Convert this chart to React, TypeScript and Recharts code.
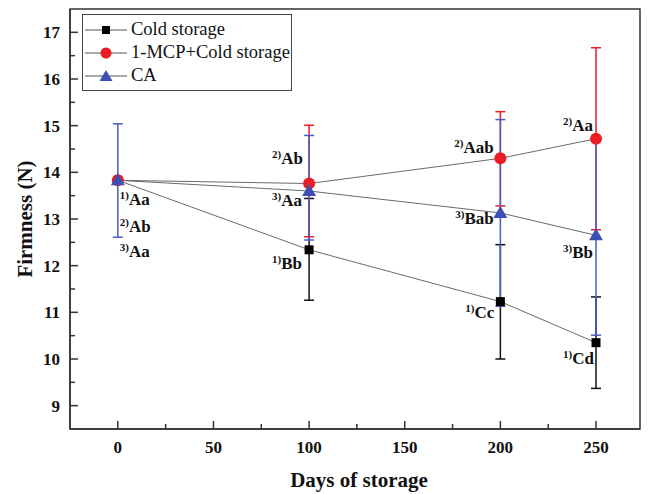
import {
  LineChart,
  Line,
  XAxis,
  YAxis,
  ErrorBar,
  LabelList,
  Label,
  Legend,
  ReferenceArea,
} from "recharts";

const days = [0, 100, 200, 250];

const coldStorage = [13.83, 12.34, 11.23, 10.35];
const coldErrLow = [0, 1.08, 1.23, 0.98];
const coldErrHigh = [0, 1.1, 1.22, 0.98];

const mcpCold = [13.83, 13.76, 14.3, 14.72];
const mcpErrLow = [0, 1.14, 1.02, 1.95];
const mcpErrHigh = [0, 1.25, 1.0, 1.95];

const caStorage = [13.83, 13.6, 13.13, 12.65];
const caErrLow = [1.22, 1.05, 2.0, 2.14];
const caErrHigh = [1.21, 1.19, 2.0, 2.1];

const coldNotes = ["Aa", "Bb", "Cc", "Cd"];
const mcpNotes = ["Ab", "Ab", "Aab", "Aa"];
const caNotes = ["Aa", "Aa", "Bab", "Bb"];

const xTicks = [0, 25, 50, 75, 100, 125, 150, 175, 200, 225, 250];
const yTicks = [9, 9.5, 10, 10.5, 11, 11.5, 12, 12.5, 13, 13.5, 14, 14.5, 15, 15.5, 16, 16.5, 17];

// label offsets (text start, baseline) relative to each point
const coldPos = [[2, 25], [-37, 19], [-35, 16], [-33, 21]];
const mcpPos = [[2, 52], [-37, -20], [-46, -5], [-33, -8]];
const caPos = [[2, 77], [-37, 15], [-45, 11], [-33, 23]];

const data = days.map((d, i) => ({
  day: d,
  cold: coldStorage[i],
  coldErr: [coldErrLow[i], coldErrHigh[i]],
  mcp: mcpCold[i],
  mcpErr: [mcpErrLow[i], mcpErrHigh[i]],
  ca: caStorage[i],
  caErr: [caErrLow[i], caErrHigh[i]],
}));

const FONT = "Liberation Serif";
const AXIS = "#333";
const LINE = "#6a6a6a";
const RED = "#ec1c24";
const BLUE = "#3b50b2";
const BLUE_BAR = "#4a5ec2";

const bold = (size: number) => ({ fontFamily: FONT, fontWeight: 700, fontSize: size });

const XTick = ({ x, y, payload }: any) => {
  const major = payload.value % 50 === 0;
  return (
    <g>
      <line x1={x} y1={y} x2={x} y2={y - (major ? 8 : 5)} stroke={AXIS} strokeWidth={1.5} />
      {major && (
        <text x={x} y={y + 24} textAnchor="middle" style={bold(17)} fill="#111">
          {payload.value}
        </text>
      )}
    </g>
  );
};

const YTick = ({ x, y, payload }: any) => {
  const major = Number.isInteger(payload.value);
  return (
    <g>
      <line x1={x} y1={y} x2={x + (major ? 8 : 5)} y2={y} stroke={AXIS} strokeWidth={1.5} />
      {major && (
        <text x={x - 10} y={y + 6} textAnchor="end" style={bold(17)} fill="#111">
          {payload.value}
        </text>
      )}
    </g>
  );
};

const noteLabel = (prefix: string, notes: string[], pos: number[][]) => (props: any) => {
  const { index } = props;
  const x = props.x ?? props.viewBox?.x;
  const y = props.y ?? props.viewBox?.y;
  const [dx, dy] = pos[index];
  return (
    <text x={x + dx} y={y + dy} style={bold(17)} fill="#111">
      <tspan style={{ fontSize: 11 }} dy={-6}>{prefix}</tspan>
      <tspan style={{ fontSize: 17 }} dy={6}>{notes[index]}</tspan>
    </text>
  );
};

const Square = (props: any) => (
  <rect key={props.index} x={props.cx - 4.5} y={props.cy - 4.5} width={9} height={9} fill="#000" />
);
const Circle = (props: any) => (
  <circle key={props.index} cx={props.cx} cy={props.cy} r={6} fill={RED} />
);
const Triangle = (props: any) => (
  <path
    key={props.index}
    d={`M${props.cx},${props.cy - 7} L${props.cx + 7},${props.cy + 5} L${props.cx - 7},${props.cy + 5} Z`}
    fill={BLUE}
  />
);

const legendItems = [
  { name: "Cold storage", marker: "square" },
  { name: "1-MCP+Cold storage", marker: "circle" },
  { name: "CA", marker: "triangle" },
];

const LegendBox = () => (
  <div
    style={{
      border: "1px solid #444",
      background: "#fff",
      width: 208,
      padding: "3px 0",
      fontFamily: FONT,
      fontSize: 18.5,
      color: "#111",
    }}
  >
    {legendItems.map((it) => (
      <div key={it.name} style={{ display: "flex", alignItems: "center", height: 23 }}>
        <svg width={46} height={16} style={{ marginLeft: 2 }}>
          <line x1={0} y1={8} x2={42} y2={8} stroke="#555" strokeWidth={1.2} />
          {it.marker === "square" && <rect x={17} y={4} width={8} height={8} fill="#000" />}
          {it.marker === "circle" && <circle cx={21} cy={8} r={5.5} fill={RED} />}
          {it.marker === "triangle" && <path d="M21,2 L27.5,13 L14.5,13 Z" fill={BLUE} />}
        </svg>
        <span>{it.name}</span>
      </div>
    ))}
  </div>
);

const XTitle = ({ viewBox }: any) => (
  <text
    x={viewBox.x + viewBox.width / 2 + 4}
    y={viewBox.y + 58}
    textAnchor="middle"
    style={bold(21)}
    fill="#111"
  >
    Days of storage
  </text>
);

const YTitle = ({ viewBox }: any) => {
  const cx = viewBox.x + 17;
  const cy = viewBox.y + viewBox.height / 2;
  return (
    <text
      x={cx}
      y={cy}
      transform={`rotate(-90, ${cx}, ${cy})`}
      textAnchor="middle"
      dominantBaseline="central"
      style={bold(21)}
      fill="#111"
    >
      Firmness (N)
    </text>
  );
};

export default function App() {
  return (
    <div style={{ width: 641, height: 486, fontFamily: FONT }}>
      <LineChart width={641} height={486} data={data} margin={{ top: 1, right: 9, bottom: 25, left: 0 }}>
        <XAxis
          dataKey="day"
          type="number"
          domain={[-25, 273]}
          ticks={xTicks}
          allowDataOverflow
          height={40}
          tickSize={0}
          tickMargin={0}
          tickLine={false}
          tick={<XTick />}
          interval={0}
          axisLine={{ stroke: AXIS, strokeWidth: 1.5 }}
        >
          <Label content={<XTitle />} />
        </XAxis>
        <YAxis
          type="number"
          domain={[8.5, 17.5]}
          ticks={yTicks}
          allowDataOverflow
          width={62}
          tickSize={0}
          tickMargin={0}
          tickLine={false}
          tick={<YTick />}
          interval={0}
          axisLine={{ stroke: AXIS, strokeWidth: 1.5 }}
        >
          <Label content={<YTitle />} />
        </YAxis>
        <ReferenceArea
          x1={-25}
          x2={273}
          y1={8.5}
          y2={17.5}
          fill="none"
          stroke={AXIS}
          strokeWidth={1.5}
          ifOverflow="visible"
        />
        <Legend
          layout="vertical"
          align="center"
          verticalAlign="middle"
          content={<LegendBox />}
          wrapperStyle={{ position: "absolute", left: 74, top: 6, width: 210 }}
        />
        <Line
          dataKey="cold"
          name="Cold storage"
          stroke={LINE}
          strokeWidth={1}
          dot={Square}
          activeDot={false}
          isAnimationActive={false}
        >
          <ErrorBar dataKey="coldErr" direction="y" width={5} stroke="#111" strokeWidth={1.5} />
          <LabelList dataKey="cold" content={noteLabel("1)", coldNotes, coldPos)} />
        </Line>
        <Line
          dataKey="mcp"
          name="1-MCP+Cold storage"
          stroke={LINE}
          strokeWidth={1}
          dot={Circle}
          activeDot={false}
          isAnimationActive={false}
        >
          <ErrorBar dataKey="mcpErr" direction="y" width={5} stroke={RED} strokeWidth={1.5} />
          <LabelList dataKey="mcp" content={noteLabel("2)", mcpNotes, mcpPos)} />
        </Line>
        <Line
          dataKey="ca"
          name="CA"
          stroke={LINE}
          strokeWidth={1}
          dot={Triangle}
          activeDot={false}
          isAnimationActive={false}
        >
          <ErrorBar dataKey="caErr" direction="y" width={5} stroke={BLUE_BAR} strokeWidth={1.5} />
          <LabelList dataKey="ca" content={noteLabel("3)", caNotes, caPos)} />
        </Line>
      </LineChart>
    </div>
  );
}
